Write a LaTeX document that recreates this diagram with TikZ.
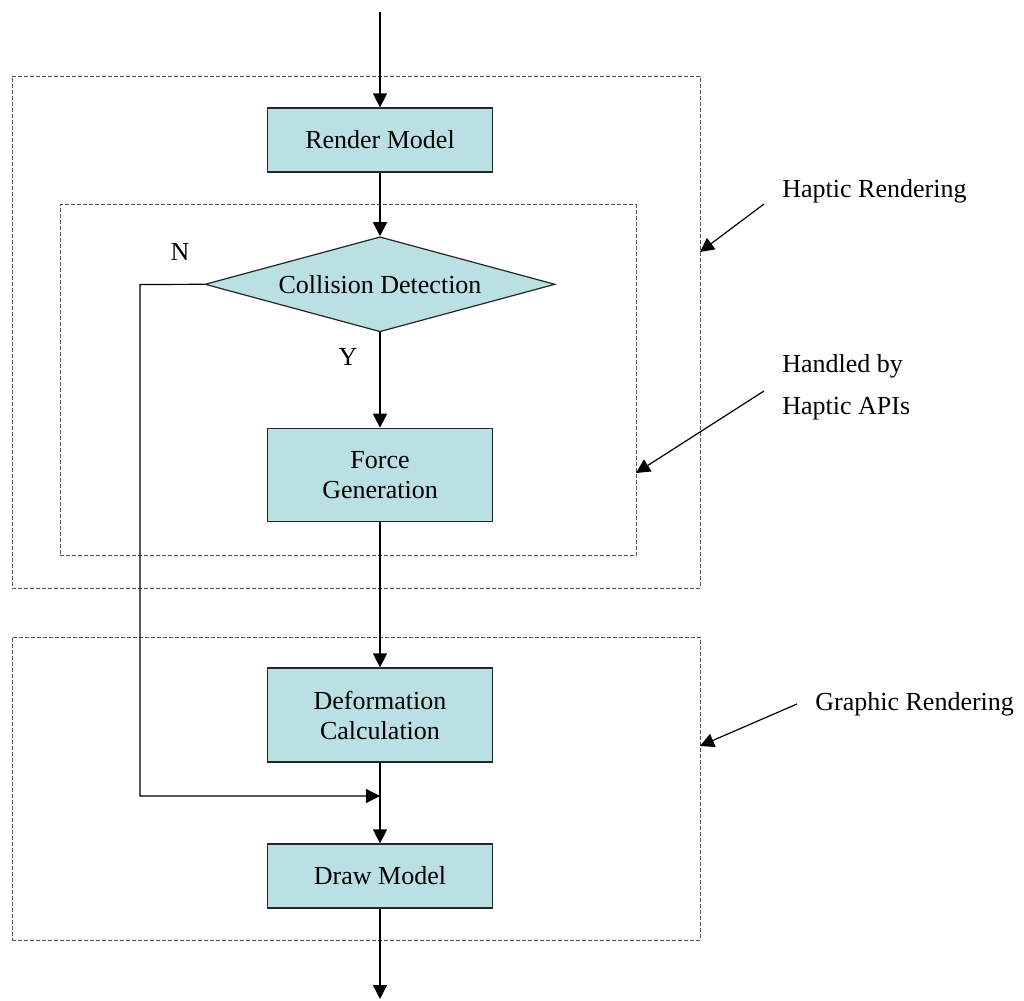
\documentclass[tikz,border=0pt]{standalone}
\usepackage{fontspec}
\setmainfont{Liberation Serif}
\usetikzlibrary{arrows.meta,shapes.geometric}
\definecolor{boxfill}{RGB}{186,224,227}
\definecolor{dashgray}{RGB}{80,80,80}
\tikzset{
  procbox/.style={draw=black!85, fill=boxfill, line width=0.6pt, minimum width=112.5pt, inner sep=0pt, align=center, font=\fontsize{13}{15}\selectfont},
  decbox/.style={draw=black!85, fill=boxfill, line width=0.6pt, shape=diamond, shape aspect=3.68, minimum width=175pt, minimum height=47.5pt, inner sep=0pt, font=\fontsize{13}{15}\selectfont},
  groupbox/.style={draw=dashgray, line width=0.5pt, dash pattern=on 2pt off 1pt, inner sep=0pt},
  arr/.style={draw=black, line width=0.6pt, -{Triangle[length=7pt,width=7pt]}},
  lbl/.style={inner sep=0pt, font=\fontsize{13}{21}\selectfont, align=left},
}
\begin{document}
\begin{tikzpicture}[x=0.5pt,y=-0.5pt]
\useasboundingbox (0,0) rectangle (1024,1001);
% group boxes
\node[groupbox, minimum width=344pt, minimum height=256pt] (hapticgrp) at (356,332) {};
\node[groupbox, minimum width=288pt, minimum height=175.5pt] (apigrp) at (348,380) {};
\node[groupbox, minimum width=344pt, minimum height=151.5pt] (graphicgrp) at (356,788.5) {};
% flow nodes
\node[procbox, minimum height=32pt] (render) at (380,140) {Render Model};
\node[decbox] (coll) at (380,284.3) {Collision Detection};
\node[procbox, minimum height=46.75pt] (force) at (380,475) {Force\\Generation};
\node[procbox, minimum height=47pt] (deform) at (380,715) {Deformation\\Calculation};
\node[procbox, minimum height=32pt] (drawm) at (380,876) {Draw Model};
% labels
\node[lbl] (nlbl) at (180,252) {N};
\node[lbl] (ylbl) at (348,357) {Y};
\node[lbl, anchor=base west] (hrlbl) at (782,197) {Haptic Rendering};
\node[lbl, anchor=base west] (apilbl) at (782,414) {Handled by\\Haptic APIs};
\node[lbl, anchor=base west] (grlbl) at (815,710) {Graphic Rendering};
% coordinates
\coordinate (in) at (380,12);
\coordinate (out) at (380,999);
\coordinate (nbend) at (140,284.5);
\coordinate (join) at (380,796);
\coordinate (hrfrom) at (764,204);
\coordinate (hrto) at (700,252);
\coordinate (apifrom) at (764,391);
\coordinate (apito) at (636,473);
\coordinate (grfrom) at (797,704);
\coordinate (grto) at (700,746);
% connectors
\draw[arr] (in) -- (render.north);
\draw[arr] (render.south) -- (coll.north);
\draw[arr] (coll.south) -- (force.north);
\draw[arr] (force.south) -- (deform.north);
\draw[arr] (deform.south) -- (drawm.north);
\draw[arr] (coll.west) -- (nbend) |- (join);
\draw[arr] (drawm.south) -- (out);
\draw[arr] (hrfrom) -- (hrto);
\draw[arr] (apifrom) -- (apito);
\draw[arr] (grfrom) -- (grto);
\end{tikzpicture}
\end{document}
